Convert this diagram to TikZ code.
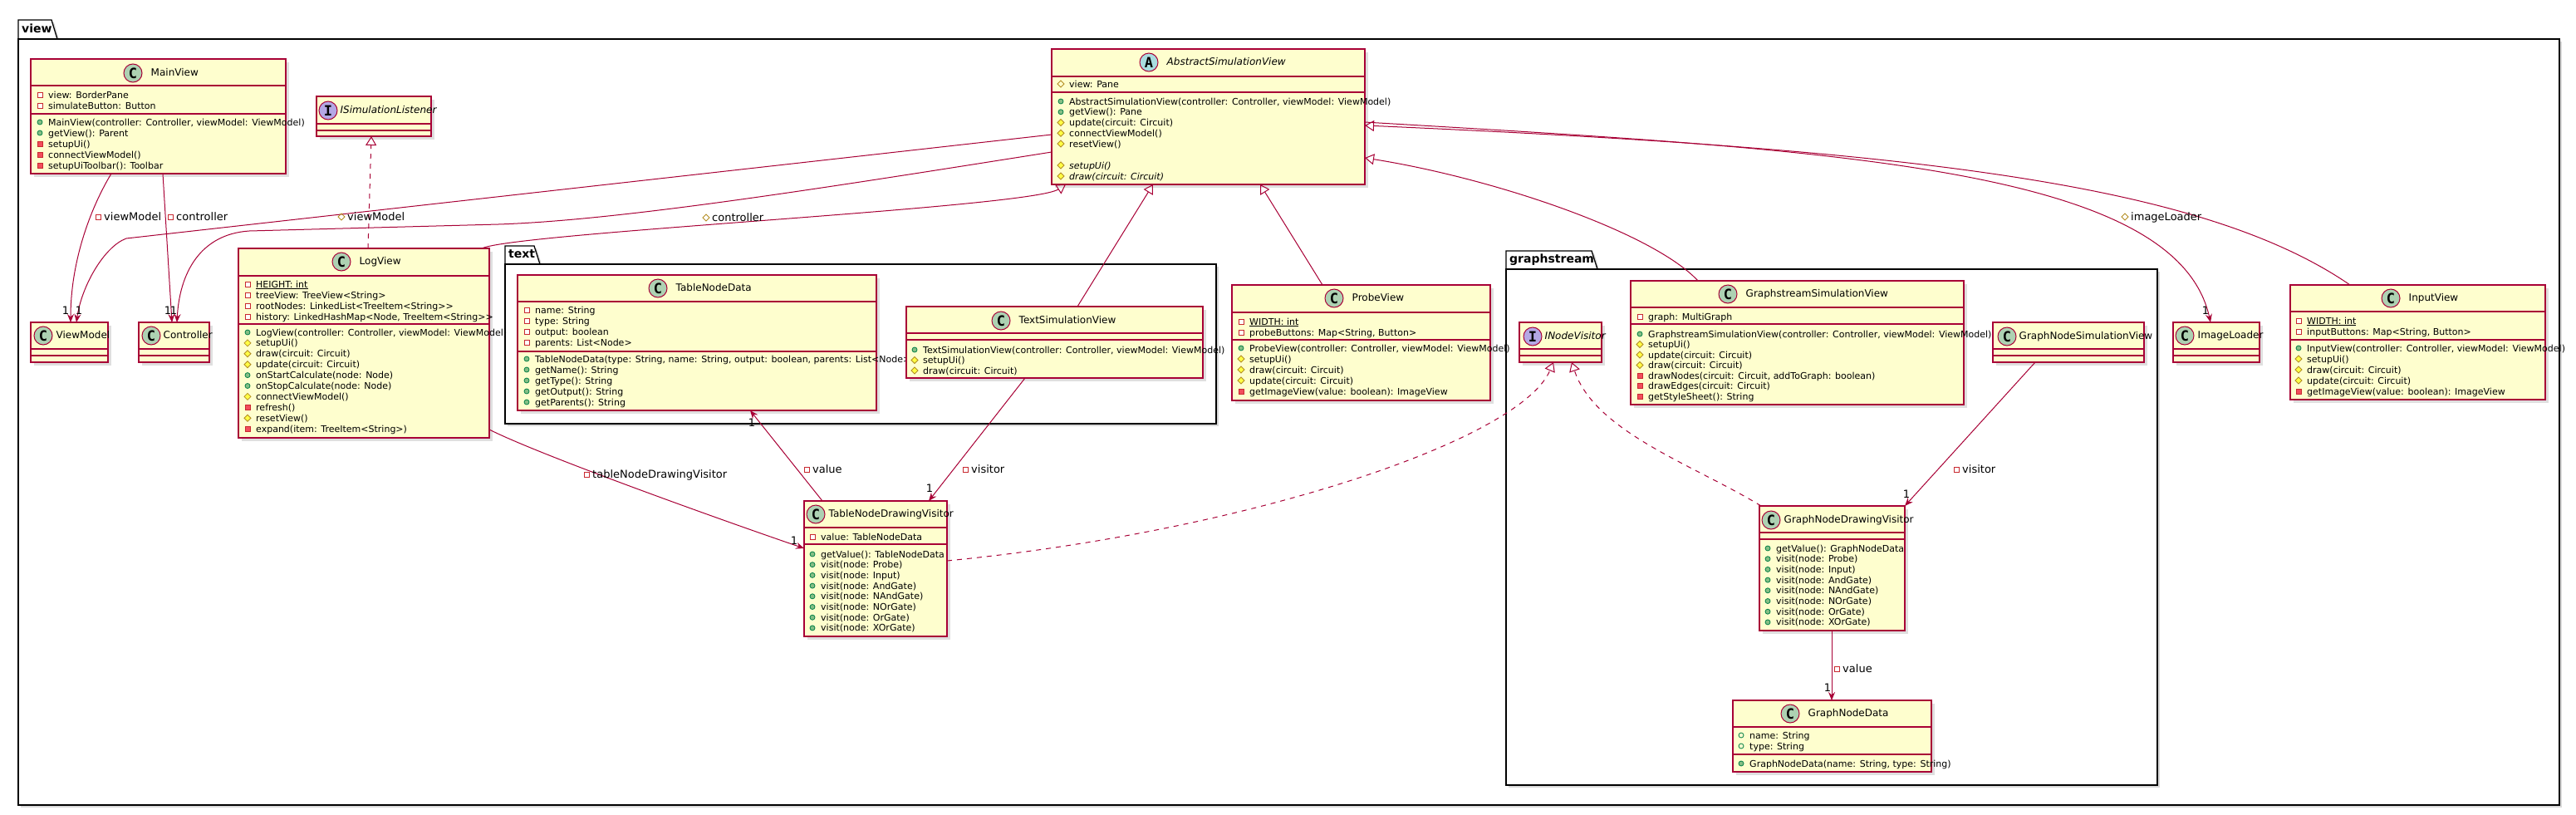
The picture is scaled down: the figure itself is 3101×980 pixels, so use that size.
\documentclass[tikz,border=0pt]{standalone}
\usepackage{fontspec}
\setmainfont{DejaVu Sans}
\newfontfamily\spotfont{DejaVu Sans Mono}
\usetikzlibrary{arrows.meta,positioning,shadows}

\definecolor{umlred}{HTML}{A80036}
\definecolor{umlfill}{HTML}{FEFECE}
\definecolor{spotc}{HTML}{ADD1B2}
\definecolor{spota}{HTML}{A9DCDF}
\definecolor{spoti}{HTML}{B4A7E5}
\definecolor{privred}{HTML}{C82930}
\definecolor{privfill}{HTML}{F24D5C}
\definecolor{pubgreen}{HTML}{038048}
\definecolor{pubfill}{HTML}{84BE84}
\definecolor{protbrown}{HTML}{B38D22}
\definecolor{protfill}{HTML}{FFFF44}

% visibility marks
\newcommand{\privf}[1]{\draw[privred, line width=.8pt, fill=white] (#1) +(-3,-3) rectangle +(3,3);}
\newcommand{\privm}[1]{\draw[privred, line width=.8pt, fill=privfill] (#1) +(-3,-3) rectangle +(3,3);}
\newcommand{\pubf}[1]{\draw[pubgreen, line width=.8pt] (#1) circle (3);}
\newcommand{\pubm}[1]{\draw[pubgreen, line width=.8pt, fill=pubfill] (#1) circle (3);}
\newcommand{\protf}[1]{\draw[protbrown, line width=.8pt] (#1) +(0,-4) -- +(4,0) -- +(0,4) -- +(-4,0) -- cycle;}
\newcommand{\protm}[1]{\draw[protbrown, line width=.8pt, fill=protfill] (#1) +(0,-4) -- +(4,0) -- +(0,4) -- +(-4,0) -- cycle;}

\newcommand{\umlpackage}[8]{%
  \draw[pkg] (#3,#6) -- (#3,#4) -- (#5-7,#4) -- (#5,#6) -- cycle;
  \draw[pkg] (#3,#6) rectangle (#7,#8);
  \node[pkgname] (#1) at (#3+4,#6-8) {#2};}
\newcommand{\umlclass}[7]{%
  \node[cls, minimum width=#4pt, minimum height=#5pt] (#1) at (#2+#4/2,#3+#5/2) {};
  \draw[sepline] (#1.west |- 0,#6) -- (#1.east |- 0,#6) (#1.west |- 0,#7) -- (#1.east |- 0,#7);}
\newcommand{\members}[5]{%
  \foreach \ic/\txt [count=\i from 0] in {#5} {\ic{#2,#3+#4*\i} \node[member] (#1\i) at (#2+10,#3+#4*\i+4) {\txt};}}
\newcommand{\role}[5]{#1{#2,#3} \node[rolelbl] (#5) at (#2+7,#3+4.5) {#4};}

\begin{document}
\begin{tikzpicture}[x=1pt, y=-1pt,
  pkg/.style={draw=black, line width=1.3pt, fill=white, drop shadow={shadow xshift=3pt, shadow yshift=-3pt, opacity=.3}},
  pkgname/.style={font=\bfseries\fontsize{14}{16}\selectfont, anchor=base west, inner sep=0},
  cls/.style={draw=umlred, fill=umlfill, line width=1.4pt, inner sep=0, outer sep=0, drop shadow={shadow xshift=4pt, shadow yshift=-4pt, opacity=.25}},
  sepline/.style={draw=umlred, line width=1.4pt},
  spot/.style={circle, draw=umlred, line width=1pt, minimum size=22pt, inner sep=0, font=\spotfont\bfseries\fontsize{17}{17}\selectfont},
  cname/.style={font=\fontsize{12}{14}\selectfont, anchor=west, inner sep=0, text height=9pt, text depth=2.5pt},
  iname/.style={cname, font=\fontsize{12}{14}\selectfont\itshape},
  member/.style={font=\fontsize{11}{13}\selectfont, anchor=base west, inner sep=0},
  rolelbl/.style={font=\fontsize{13}{15}\selectfont, anchor=base west, inner sep=0},
  mult/.style={font=\fontsize{13}{15}\selectfont, inner sep=0},
  assoc/.style={draw=umlred, line width=1pt, -{Stealth[length=10pt, width=8pt, inset=3.5pt]}},
  inherit/.style={draw=umlred, line width=1pt, -{Triangle[open, length=11pt, width=13pt]}},
  realize/.style={inherit, dash pattern=on 6pt off 6pt}]
\useasboundingbox (0,0) rectangle (3101,980);

\umlpackage{viewpkg}{view}{22}{24}{69}{47}{3081}{969}
\umlpackage{textpkg}{text}{608}{296}{650}{318}{1464}{510}
\umlpackage{graphpkg}{graphstream}{1813}{302}{1923}{324}{2597}{945}

% view
\umlclass{mainview}{37}{71}{307}{138}{103}{137}
\node[spot, fill=spotc] (mainview-s) at (160,88) {C};
\node[cname, right=10pt of mainview-s] (mainview-n) {MainView};
\members{mainview-a}{48}{114}{13}{\privf/{view: BorderPane}, \privf/{simulateButton: Button}}
\members{mainview-m}{48}{147}{13}{\pubm/{MainView(controller: Controller, viewModel: ViewModel)}, \pubm/{getView(): Parent}, \privm/{setupUi()}, \privm/{connectViewModel()}, \privm/{setupUiToolbar(): Toolbar}}

\umlclass{islistener}{381}{116}{138}{48}{149}{157}
\node[spot, fill=spoti] (islistener-s) at (395,133) {I};
\node[iname, right=3pt of islistener-s] (islistener-n) {ISimulationListener};

\umlclass{absview}{1266}{59}{377}{163}{92}{111}
\node[spot, fill=spota] (absview-s) at (1383,75) {A};
\node[iname, right=10pt of absview-s] (absview-n) {AbstractSimulationView};
\members{absview-a}{1277}{101}{13}{\protf/{view: Pane}}
\members{absview-m}{1277}{122}{12.75}{\pubm/{AbstractSimulationView(controller: Controller, viewModel: ViewModel)}, \pubm/{getView(): Pane}, \protm/{update(circuit: Circuit)}, \protm/{connectViewModel()}, \protm/{resetView()}}
\members{absview-i}{1277}{199}{13}{\protm/{\itshape setupUi()}, \protm/{\itshape draw(circuit: Circuit)}}

\umlclass{viewmodel}{37}{388}{93}{48}{420}{428}
\node[spot, fill=spotc] (viewmodel-s) at (52,404) {C};
\node[cname, right=4pt of viewmodel-s] (viewmodel-n) {ViewModel};

\umlclass{controller}{167}{388}{85}{48}{420}{428}
\node[spot, fill=spotc] (controller-s) at (182,404) {C};
\node[cname, right=3pt of controller-s] (controller-n) {Controller};

\umlclass{logview}{287}{299}{302}{228}{332}{390}
\node[spot, fill=spotc] (logview-s) at (411,315) {C};
\node[cname, right=10pt of logview-s] (logview-n) {LogView};
\members{logview-a}{298}{342}{13}{\privf/{\underline{HEIGHT: int}}, \privf/{treeView: TreeView<String>}, \privf/{rootNodes: LinkedList<TreeItem<String>\kern0pt>}, \privf/{history: LinkedHashMap<Node, TreeItem<String>\kern0pt>}}
\members{logview-m}{298}{400}{12.9}{\pubm/{LogView(controller: Controller, viewModel: ViewModel)}, \protm/{setupUi()}, \protm/{draw(circuit: Circuit)}, \protm/{update(circuit: Circuit)}, \pubm/{onStartCalculate(node: Node)}, \pubm/{onStopCalculate(node: Node)}, \protm/{connectViewModel()}, \privm/{refresh()}, \protm/{resetView()}, \privm/{expand(item: TreeItem<String>)}}

\umlclass{probeview}{1483}{343}{311}{139}{376}{409}
\node[spot, fill=spotc] (probeview-s) at (1606,359) {C};
\node[cname, right=10pt of probeview-s] (probeview-n) {ProbeView};
\members{probeview-a}{1494}{387}{13}{\privf/{\underline{WIDTH: int}}, \privf/{probeButtons: Map<String, Button>}}
\members{probeview-m}{1494}{419}{13}{\pubm/{ProbeView(controller: Controller, viewModel: ViewModel)}, \protm/{setupUi()}, \protm/{draw(circuit: Circuit)}, \protm/{update(circuit: Circuit)}, \privm/{getImageView(value: boolean): ImageView}}

\umlclass{imageloader}{2616}{388}{104}{48}{420}{428}
\node[spot, fill=spotc] (imageloader-s) at (2630,404) {C};
\node[cname, right=4pt of imageloader-s] (imageloader-n) {ImageLoader};

\umlclass{inputview}{2757}{343}{307}{138}{375}{409}
\node[spot, fill=spotc] (inputview-s) at (2878,359) {C};
\node[cname, right=10pt of inputview-s] (inputview-n) {InputView};
\members{inputview-a}{2767}{386}{13}{\privf/{\underline{WIDTH: int}}, \privf/{inputButtons: Map<String, Button>}}
\members{inputview-m}{2767}{419}{13}{\pubm/{InputView(controller: Controller, viewModel: ViewModel)}, \protm/{setupUi()}, \protm/{draw(circuit: Circuit)}, \protm/{update(circuit: Circuit)}, \privm/{getImageView(value: boolean): ImageView}}

\umlclass{tabledrawvis}{968}{603}{172}{163}{635}{655}
\node[spot, fill=spotc] (tabledrawvis-s) at (982,619) {C};
\node[cname, right=4pt of tabledrawvis-s] (tabledrawvis-n) {TableNodeDrawingVisitor};
\members{tabledrawvis-a}{978}{646}{13}{\privf/{value: TableNodeData}}
\members{tabledrawvis-m}{978}{667}{12.7}{\pubm/{getValue(): TableNodeData}, \pubm/{visit(node: Probe)}, \pubm/{visit(node: Input)}, \pubm/{visit(node: AndGate)}, \pubm/{visit(node: NAndGate)}, \pubm/{visit(node: NOrGate)}, \pubm/{visit(node: OrGate)}, \pubm/{visit(node: XOrGate)}}

% text
\umlclass{tablenodedata}{623}{331}{432}{163}{363}{423}
\node[spot, fill=spotc] (tablenodedata-s) at (792,347) {C};
\node[cname, right=10pt of tablenodedata-s] (tablenodedata-n) {TableNodeData};
\members{tablenodedata-a}{634}{373}{13}{\privf/{name: String}, \privf/{type: String}, \privf/{output: boolean}, \privf/{parents: List<Node>}}
\members{tablenodedata-m}{634}{432}{13}{\pubm/{TableNodeData(type: String, name: String, output: boolean, parents: List<Node>)}, \pubm/{getName(): String}, \pubm/{getType(): String}, \pubm/{getOutput(): String}, \pubm/{getParents(): String}}

\umlclass{textsimview}{1091}{369}{357}{86}{401}{409}
\node[spot, fill=spotc] (textsimview-s) at (1205,386) {C};
\node[cname, right=10pt of textsimview-s] (textsimview-n) {TextSimulationView};
\members{textsimview-m}{1101}{421}{12.5}{\pubm/{TextSimulationView(controller: Controller, viewModel: ViewModel)}, \protm/{setupUi()}, \protm/{draw(circuit: Circuit)}}

% graphstream
\umlclass{inodevisitor}{1829}{388}{99}{48}{420}{428}
\node[spot, fill=spoti] (inodevisitor-s) at (1845,405) {I};
\node[iname, right=3pt of inodevisitor-s] (inodevisitor-n) {INodeVisitor};

\umlclass{gsimview}{1963}{338}{401}{149}{370}{390}
\node[spot, fill=spotc] (gsimview-s) at (2080,354) {C};
\node[cname, right=10pt of gsimview-s] (gsimview-n) {GraphstreamSimulationView};
\members{gsimview-a}{1974}{381}{13}{\privf/{graph: MultiGraph}}
\members{gsimview-m}{1974}{402}{12.5}{\pubm/{GraphstreamSimulationView(controller: Controller, viewModel: ViewModel)}, \protm/{setupUi()}, \protm/{update(circuit: Circuit)}, \protm/{draw(circuit: Circuit)}, \privm/{drawNodes(circuit: Circuit, addToGraph: boolean)}, \privm/{drawEdges(circuit: Circuit)}, \privm/{getStyleSheet(): String}}

\umlclass{gnodesimview}{2399}{388}{182}{48}{420}{428}
\node[spot, fill=spotc] (gnodesimview-s) at (2416,405) {C};
\node[cname, right=3pt of gnodesimview-s] (gnodesimview-n) {GraphNodeSimulationView};

\umlclass{gdrawvis}{2118}{609}{175}{150}{641}{649}
\node[spot, fill=spotc] (gdrawvis-s) at (2132,626) {C};
\node[cname, right=4pt of gdrawvis-s] (gdrawvis-n) {GraphNodeDrawingVisitor};
\members{gdrawvis-m}{2128}{660}{12.7}{\pubm/{getValue(): GraphNodeData}, \pubm/{visit(node: Probe)}, \pubm/{visit(node: Input)}, \pubm/{visit(node: AndGate)}, \pubm/{visit(node: NAndGate)}, \pubm/{visit(node: NOrGate)}, \pubm/{visit(node: OrGate)}, \pubm/{visit(node: XOrGate)}}

\umlclass{gnodedata}{2086}{843}{239}{86}{875}{908}
\node[spot, fill=spotc] (gnodedata-s) at (2155,859) {C};
\node[cname, right=10pt of gnodedata-s] (gnodedata-n) {GraphNodeData};
\members{gnodedata-a}{2096}{885}{13}{\pubf/{name: String}, \pubf/{type: String}}
\members{gnodedata-m}{2096}{919}{13}{\pubm/{GraphNodeData(name: String, type: String)}}

% generalisations
\draw[inherit] ([xshift=-9pt]logview.north east) .. controls (620,280) and (1240,250) .. ([xshift=17pt]absview.south west);
\draw[inherit] ([xshift=206pt]textsimview.north west) -- ([xshift=122pt]absview.south west);
\draw[inherit] ([xshift=109pt]probeview.north west) -- ([xshift=251pt]absview.south west);
\draw[inherit] ([xshift=81pt]gsimview.north west) .. controls (1990,280) and (1800,215) .. ([yshift=-131pt]absview.north east);
\draw[inherit] ([xshift=72pt]inputview.north west) .. controls (2650,220) and (2300,180) .. ([yshift=-92pt]absview.north east);
\draw[realize] ([xshift=156pt]logview.north west) -- ([xshift=66pt]islistener.south west);
\draw[realize] ([yshift=-72pt]tabledrawvis.north east) .. controls (1500,640) and (1830,530) .. ([xshift=41pt]inodevisitor.south west);
\draw[realize] ([xshift=2pt]gdrawvis.north west) .. controls (2040,560) and (1920,520) .. ([xshift=63pt]inodevisitor.south west);

% associations
\draw[assoc] ([xshift=97pt]mainview.south west) .. controls (112,245) and (85,310) .. ([xshift=48pt]viewmodel.north west);
\draw[assoc] ([xshift=159pt]mainview.south west) -- ([xshift=40pt]controller.north west);
\draw[assoc] ([yshift=-103pt]absview.north west) -- (152,287) .. controls (125,297) and (98,345) .. ([xshift=55pt]viewmodel.north west);
\draw[assoc] ([yshift=-124pt]absview.north west) .. controls (1000,225) and (750,265) .. (600,270) -- (300,278) .. controls (240,282) and (216,330) .. ([xshift=46pt]controller.north west);
\draw[assoc] ([yshift=-88pt]absview.north east) .. controls (2200,180) and (2620,200) .. ([xshift=45pt]imageloader.north west);
\draw[assoc] ([yshift=10pt]logview.south east) .. controls (650,548) and (880,630) .. ([yshift=-57pt]tabledrawvis.north west);
\draw[assoc] ([xshift=22pt]tabledrawvis.north west) -- ([xshift=-152pt]tablenodedata.south east);
\draw[assoc] ([xshift=143pt]textsimview.south west) -- ([xshift=-22pt]tabledrawvis.north east);
\draw[assoc] ([xshift=51pt]gnodesimview.south west) -- (gdrawvis.north east);
\draw[assoc] ([xshift=87pt]gdrawvis.south west) -- ([xshift=119pt]gnodedata.north west);

\role{\privf}{118}{261}{viewModel}{mv-vm-r}
\role{\privf}{205}{261}{controller}{mv-ct-r}
\role{\protf}{411}{261}{viewModel}{av-vm-r}
\role{\protf}{850}{262}{controller}{av-ct-r}
\role{\protf}{2558}{261}{imageLoader}{av-il-r}
\role{\privf}{706}{571}{tableNodeDrawingVisitor}{lv-td-r}
\role{\privf}{971}{565}{value}{td-tn-r}
\role{\privf}{1162}{565}{visitor}{ts-td-r}
\role{\privf}{2355}{565}{visitor}{gs-gd-r}
\role{\privf}{2211}{805}{value}{gd-gn-r}

\node[mult] (mv-vm) at (79,374) {1};
\node[mult] (av-vm) at (95,374) {1};
\node[mult] (mv-ct) at (202,374) {1};
\node[mult] (av-ct) at (209,374) {1};
\node[mult] (av-il) at (2655,374) {1};
\node[mult] (lv-td) at (956,651) {1};
\node[mult] (td-tn) at (905,509) {1};
\node[mult] (ts-td) at (1119,588) {1};
\node[mult] (gs-gd) at (2295,595) {1};
\node[mult] (gd-gn) at (2200,828) {1};
\end{tikzpicture}
\end{document}
